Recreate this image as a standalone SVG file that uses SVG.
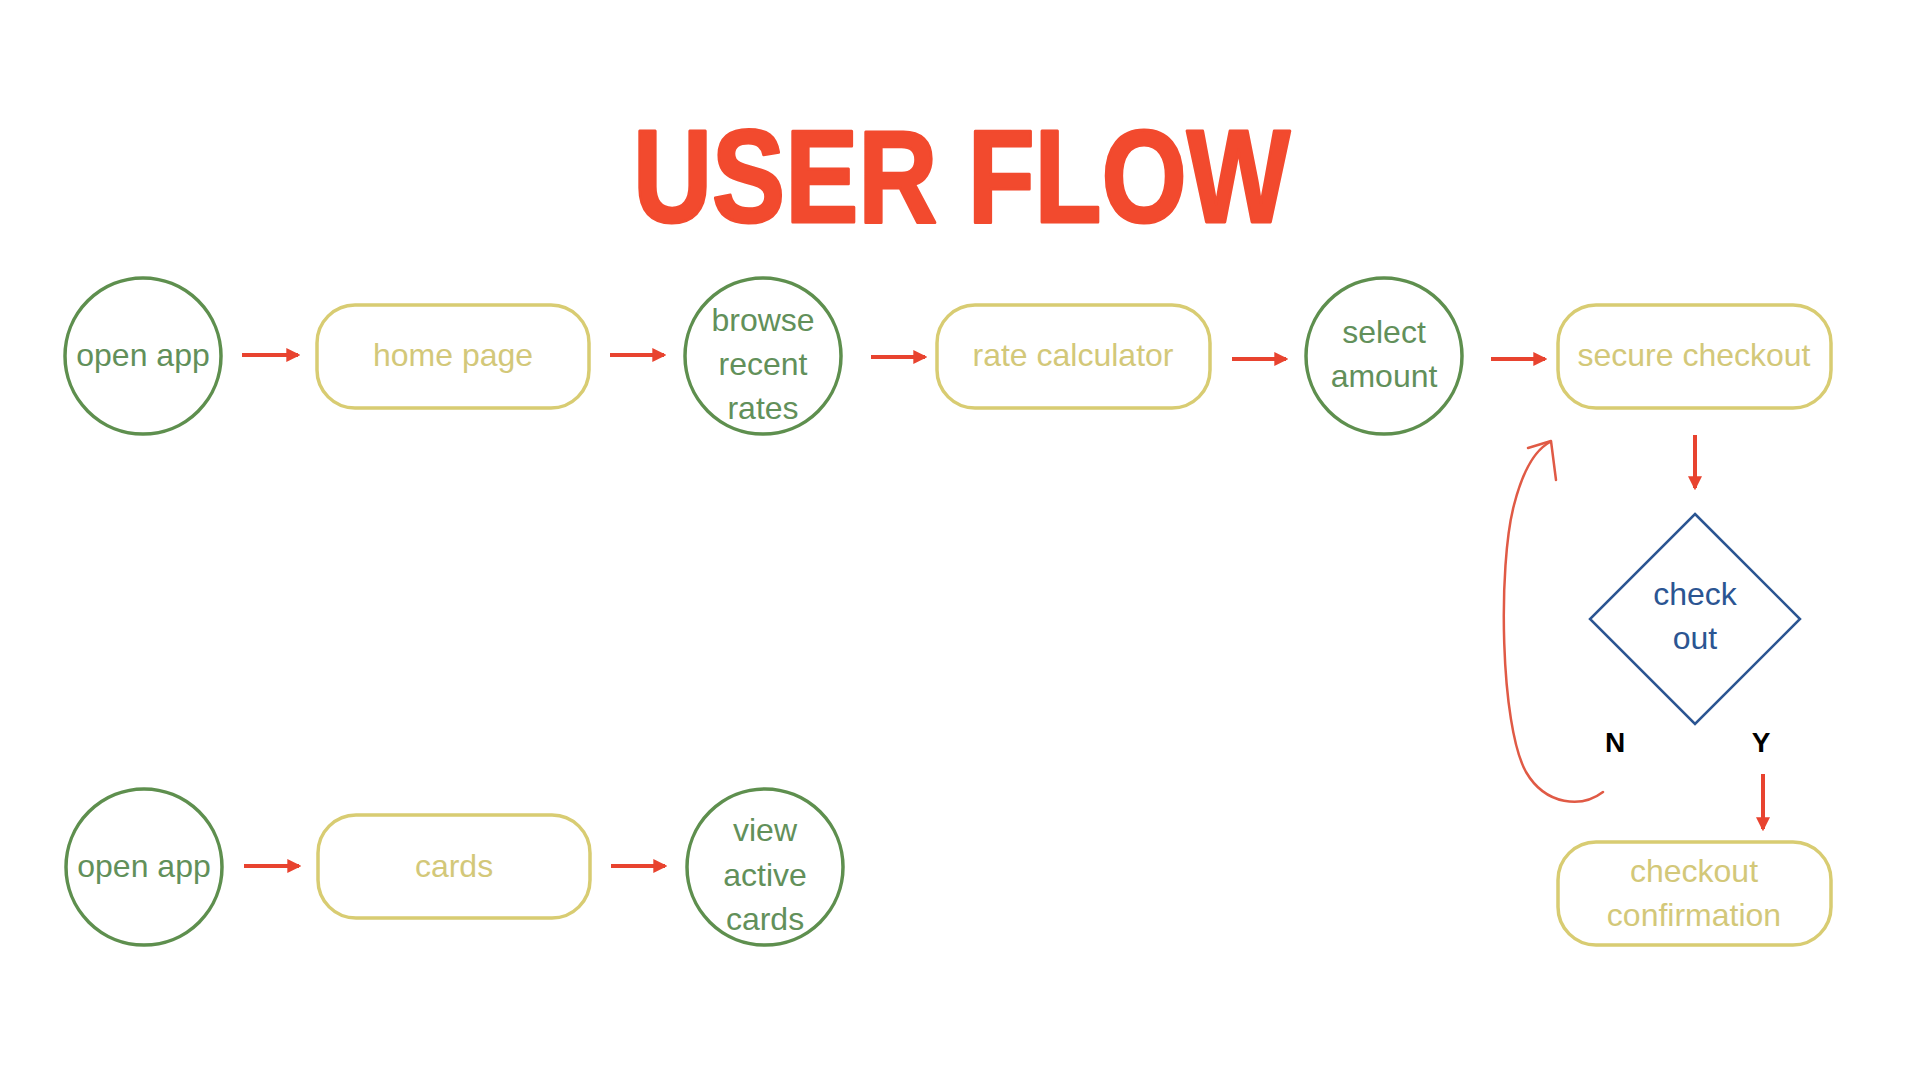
<svg xmlns="http://www.w3.org/2000/svg" width="1920" height="1080" viewBox="0 0 1920 1080">
<style>
.circ{fill:none;stroke:#5E8F4E;stroke-width:3.5}
.box{fill:none;stroke:#D8CC72;stroke-width:3.5}
.dia{fill:none;stroke:#2B5592;stroke-width:2.5}
.gt{font-family:"Liberation Sans",Arial,sans-serif;font-size:32px;fill:#62905A;text-anchor:middle}
.yt{font-family:"Liberation Sans",Arial,sans-serif;font-size:32px;fill:#D3C879;text-anchor:middle}
.bt{font-family:"Liberation Sans",Arial,sans-serif;font-size:32px;fill:#2B5592;text-anchor:middle}
.lbl{font-family:"Liberation Sans",Arial,sans-serif;font-size:28px;font-weight:bold;fill:#000;text-anchor:middle}
.arr{stroke:#E8432F;stroke-width:4;fill:none;marker-end:url(#ah)}
.loop{stroke:#E05A45;stroke-width:2.5;fill:none;stroke-linecap:round;stroke-linejoin:round}
</style>
<defs>
<marker id="ah" markerUnits="userSpaceOnUse" markerWidth="14" markerHeight="14" viewBox="0 0 12 12" refX="10" refY="6" orient="auto">
<path d="M0,0 L12,6 L0,12 z" fill="#E8432F"/>
</marker>
</defs>
<rect width="1920" height="1080" fill="#FFFFFF"/>
<text x="633" y="222" textLength="657" lengthAdjust="spacingAndGlyphs" font-family="'Liberation Sans',Arial,sans-serif" font-weight="bold" font-size="132" fill="#F24A2E" stroke="#F24A2E" stroke-width="3" stroke-linejoin="round">USER FLOW</text>

<g id="n-open-app-1"><circle class="circ" cx="143" cy="356" r="78"/><text class="gt" x="143" y="366">open app</text></g>
<g id="n-home-page"><rect class="box" x="317" y="305" width="272" height="103" rx="38"/><text class="yt" x="453" y="366">home page</text></g>
<g id="n-browse"><circle class="circ" cx="763" cy="356" r="78"/><text class="gt" x="763" y="331">browse</text><text class="gt" x="763" y="375">recent</text><text class="gt" x="763" y="419">rates</text></g>
<g id="n-rate-calc"><rect class="box" x="937" y="305" width="273" height="103" rx="38"/><text class="yt" x="1073" y="366">rate calculator</text></g>
<g id="n-select-amount"><circle class="circ" cx="1384" cy="356" r="78"/><text class="gt" x="1384" y="343">select</text><text class="gt" x="1384" y="387">amount</text></g>
<g id="n-secure-checkout"><rect class="box" x="1558" y="305" width="273" height="103" rx="38"/><text class="yt" x="1694" y="366">secure checkout</text></g>
<g id="n-check-out"><polygon class="dia" points="1695,514 1800,619 1695,724 1590,619"/><text class="bt" x="1695" y="605">check</text><text class="bt" x="1695" y="649">out</text></g>
<g id="n-checkout-confirmation"><rect class="box" x="1558" y="842" width="273" height="103" rx="38"/><text class="yt" x="1694" y="882">checkout</text><text class="yt" x="1694" y="926">confirmation</text></g>
<g id="n-open-app-2"><circle class="circ" cx="144" cy="867" r="78"/><text class="gt" x="144" y="877">open app</text></g>
<g id="n-cards"><rect class="box" x="318" y="815" width="272" height="103" rx="38"/><text class="yt" x="454" y="877">cards</text></g>
<g id="n-view-active-cards"><circle class="circ" cx="765" cy="867" r="78"/><text class="gt" x="765" y="841">view</text><text class="gt" x="765" y="886">active</text><text class="gt" x="765" y="930">cards</text></g>

<g id="connectors">
<line class="arr" x1="242" y1="355" x2="298" y2="355"/>
<line class="arr" x1="610" y1="355" x2="664" y2="355"/>
<line class="arr" x1="871" y1="357" x2="925" y2="357"/>
<line class="arr" x1="1232" y1="359" x2="1286" y2="359"/>
<line class="arr" x1="1491" y1="359" x2="1545" y2="359"/>
<line class="arr" x1="1695" y1="435" x2="1695" y2="488"/>
<line class="arr" x1="1763" y1="774" x2="1763" y2="829"/>
<line class="arr" x1="244" y1="866" x2="299" y2="866"/>
<line class="arr" x1="611" y1="866" x2="665" y2="866"/>
<path class="loop" d="M1603,792 C1582,808 1546,806 1526,772 C1500,725 1498,565 1514,505 C1523,470 1535,450 1550,442"/>
<path class="loop" d="M1528,448 L1551,441 L1556,480" stroke-width="4"/>
<text class="lbl" x="1615" y="752">N</text>
<text class="lbl" x="1761" y="752">Y</text>
</g>
</svg>
